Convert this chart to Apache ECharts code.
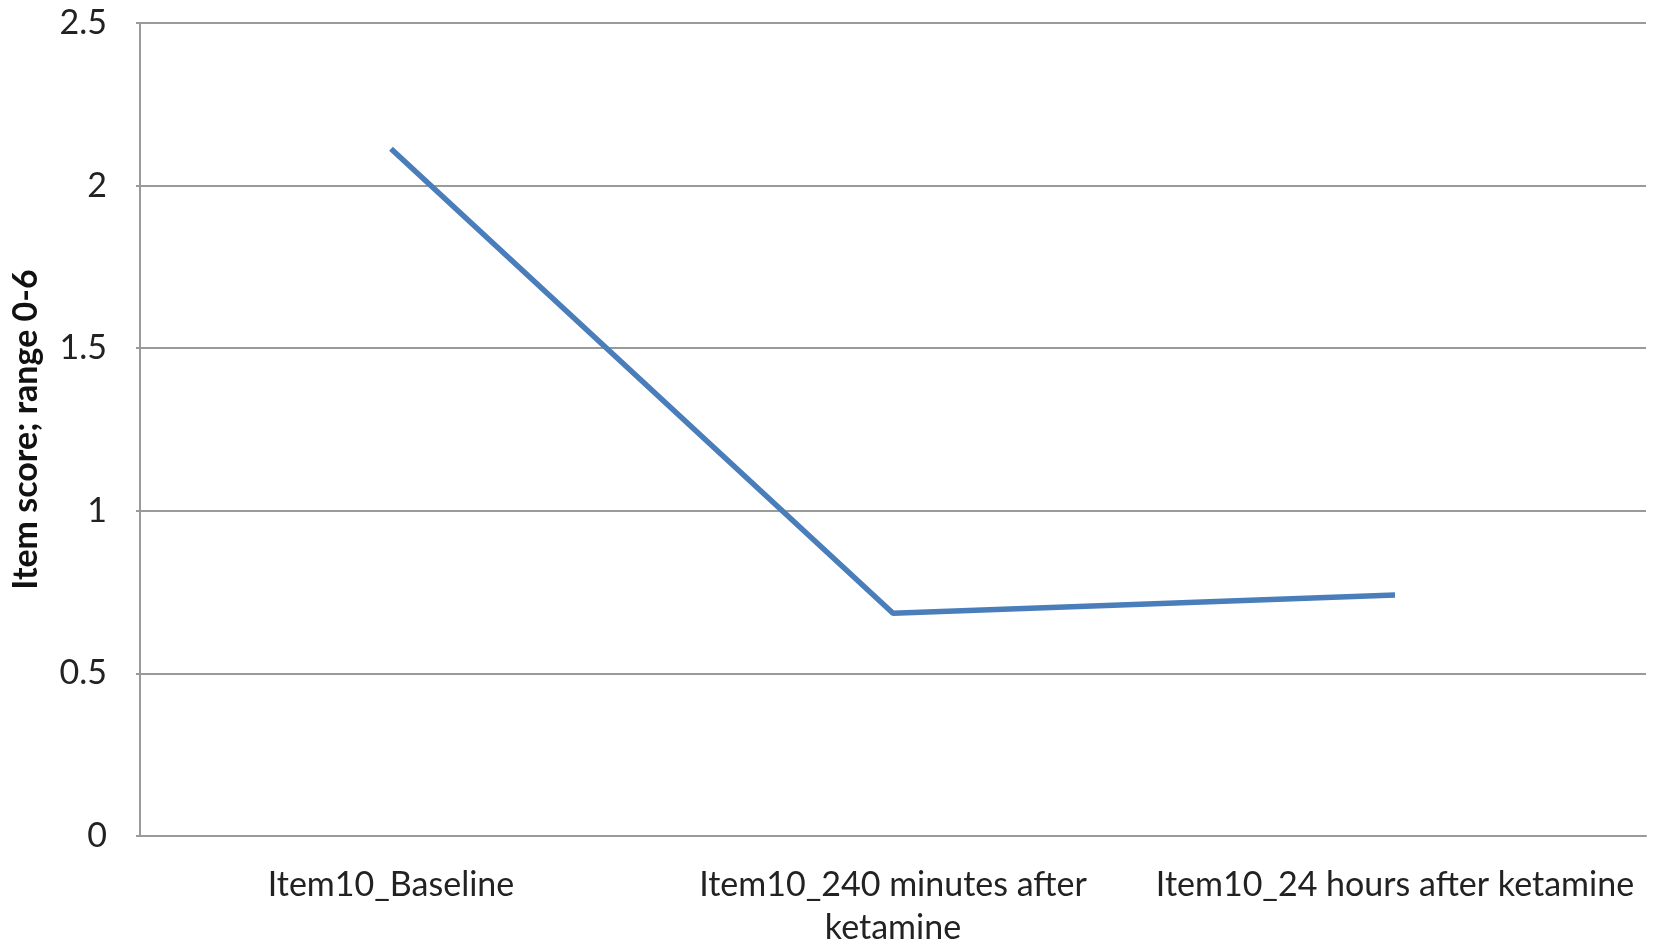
<!DOCTYPE html>
<html>
<head>
<meta charset="utf-8">
<script src="https://cdn.jsdelivr.net/npm/echarts@6/dist/echarts.min.js"></script>
<style>html,body{margin:0;padding:0;background:#fff;}#c{width:1654px;height:950px;}</style>
</head>
<body>
<div id="c"></div>
<script>
var categories = ['Item10_Baseline', 'Item10_240 minutes after\nketamine', 'Item10_24 hours after ketamine'];
var values = [2.113, 0.685, 0.741];
var yTicks = [0, 0.5, 1, 1.5, 2, 2.5];
var yName = 'Item score; range 0-6';

var font = 'Lato, "Open Sans", sans-serif';
var chart = echarts.init(document.getElementById('c'));
chart.setOption({
  animation: false,
  grid: { left: 140, right: 8, top: 23, bottom: 106 },
  xAxis: {
    type: 'category',
    data: categories,
    boundaryGap: true,
    axisLine: { lineStyle: { color: '#9a9a9a', width: 2 } },
    axisTick: { show: false },
    axisLabel: { color: '#222', fontSize: 34, fontFamily: font, margin: 28, lineHeight: 43, interval: 0 }
  },
  yAxis: {
    type: 'value',
    min: yTicks[0], max: yTicks[yTicks.length - 1], interval: 0.5,
    name: yName,
    nameLocation: 'middle',
    nameGap: 97,
    nameTextStyle: { color: '#111', fontSize: 34, fontWeight: 'bold', fontFamily: font },
    axisLine: { show: true, lineStyle: { color: '#9a9a9a', width: 2 } },
    axisTick: { show: true, length: 4, lineStyle: { color: '#9a9a9a', width: 2 } },
    axisLabel: { color: '#222', fontSize: 34, fontFamily: font, margin: 33 },
    splitLine: { lineStyle: { color: '#9a9a9a', width: 2 } }
  },
  series: [{
    type: 'line',
    data: values,
    symbol: 'none',
    lineStyle: { color: '#4a7ebb', width: 5.5 }
  }]
});
</script>
</body>
</html>
